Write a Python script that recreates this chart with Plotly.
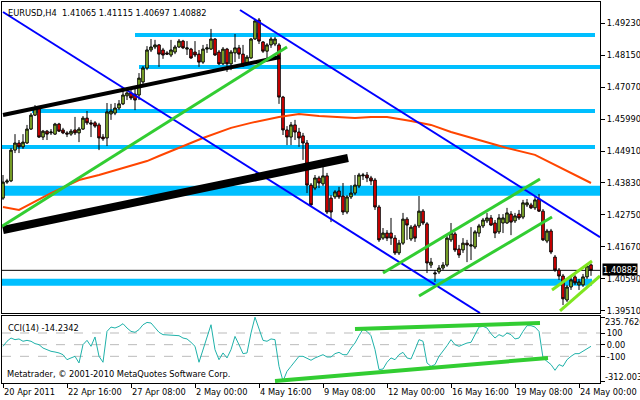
import plotly.graph_objects as go

# ---------------- data ----------------
title_text = "EURUSD,H4\u00a0\u00a01.41065 1.41115 1.40697 1.40882"
cci_label = "CCI(14) -14.2342"
copyright_text = "Metatrader, \u00a9 2001-2010 MetaQuotes Software Corp."
last_close = 1.40882

opens = [
    1.4332, 1.4386, 1.4390, 1.4494, 1.4518, 1.4505, 1.4518, 1.4565, 1.4612, 1.4636,
    1.4538, 1.4558, 1.4552, 1.4548, 1.4582, 1.4562, 1.4552, 1.4548, 1.4562, 1.4552,
    1.4565, 1.4602, 1.4586, 1.4586, 1.4579, 1.4538, 1.4535, 1.4616, 1.4619, 1.4636,
    1.4650, 1.4677, 1.4687, 1.4683, 1.4680, 1.4724, 1.4771, 1.4832, 1.4842, 1.4849,
    1.4832, 1.4822, 1.4815, 1.4825, 1.4842, 1.4862, 1.4835, 1.4835, 1.4825, 1.4818,
    1.4791, 1.4835, 1.4835, 1.4869, 1.4825, 1.4785, 1.4835, 1.4785, 1.4822, 1.4839,
    1.4818, 1.4785, 1.4805, 1.4869, 1.4933, 1.4859, 1.4828, 1.4849, 1.4852, 1.4849,
    1.4673, 1.4562, 1.4538, 1.4579, 1.4555, 1.4542, 1.4518, 1.4376, 1.4366, 1.4400,
    1.4380, 1.4407, 1.4332, 1.4336, 1.4356, 1.4339, 1.4285, 1.4336, 1.4349, 1.4373,
    1.4407, 1.4410, 1.4400, 1.4393, 1.4302, 1.4197, 1.4214, 1.4214, 1.4197, 1.4147,
    1.4180, 1.4261, 1.4194, 1.4238, 1.4238, 1.4288, 1.4245, 1.4106, 1.4076, 1.4083,
    1.4096, 1.4106, 1.4191, 1.4211, 1.4160, 1.4157, 1.4180, 1.4170, 1.4167, 1.4214,
    1.4238, 1.4255, 1.4265, 1.4248, 1.4218, 1.4248, 1.4248, 1.4278, 1.4255, 1.4278,
    1.4268, 1.4309, 1.4309, 1.4299, 1.4329, 1.4288, 1.4187, 1.4221, 1.4133, 1.4089,
    1.4069, 1.3988, 1.4032, 1.4066, 1.4039, 1.4039, 1.4066, 1.41065,
]
highs = [
    1.4410, 1.4397, 1.4501, 1.4548, 1.4528, 1.4548, 1.4579, 1.4619, 1.4646, 1.4643,
    1.4562, 1.4562, 1.4565, 1.4586, 1.4586, 1.4569, 1.4558, 1.4565, 1.4606, 1.4572,
    1.4609, 1.4626, 1.4596, 1.4592, 1.4586, 1.4548, 1.4653, 1.4650, 1.4653, 1.4663,
    1.4697, 1.4697, 1.4697, 1.4704, 1.4754, 1.4778, 1.4845, 1.4869, 1.4866, 1.4852,
    1.4839, 1.4828, 1.4866, 1.4849, 1.4869, 1.4866, 1.4862, 1.4839, 1.4862, 1.4832,
    1.4849, 1.4852, 1.4903, 1.4872, 1.4832, 1.4842, 1.4839, 1.4832, 1.4886, 1.4849,
    1.4849, 1.4815, 1.4872, 1.4937, 1.4940, 1.4862, 1.4855, 1.4876, 1.4876, 1.4855,
    1.4677, 1.4575, 1.4589, 1.4596, 1.4569, 1.4552, 1.4528, 1.4383, 1.4410, 1.4407,
    1.4437, 1.4417, 1.4342, 1.4359, 1.4370, 1.4383, 1.4342, 1.4376, 1.4410, 1.4417,
    1.4417, 1.4420, 1.4407, 1.4400, 1.4309, 1.4231, 1.4224, 1.4265, 1.4207, 1.4191,
    1.4282, 1.4268, 1.4241, 1.4245, 1.4339, 1.4295, 1.4251, 1.4130, 1.4089, 1.4106,
    1.4116, 1.4204, 1.4248, 1.4218, 1.4174, 1.4197, 1.4191, 1.4234, 1.4224, 1.4245,
    1.4265, 1.4282, 1.4275, 1.4258, 1.4278, 1.4278, 1.4299, 1.4288, 1.4282, 1.4292,
    1.4326, 1.4329, 1.4316, 1.4336, 1.4346, 1.4295, 1.4228, 1.4228, 1.4140, 1.4096,
    1.4076, 1.4039, 1.4069, 1.4072, 1.4059, 1.4076, 1.4110, 1.41115,
]
lows = [
    1.4326, 1.4380, 1.4386, 1.4484, 1.4484, 1.4498, 1.4515, 1.4562, 1.4609, 1.4535,
    1.4528, 1.4528, 1.4545, 1.4545, 1.4555, 1.4548, 1.4538, 1.4542, 1.4545, 1.4521,
    1.4562, 1.4579, 1.4538, 1.4569, 1.4494, 1.4525, 1.4508, 1.4596, 1.4612, 1.4629,
    1.4646, 1.4663, 1.4663, 1.4629, 1.4663, 1.4714, 1.4764, 1.4825, 1.4835, 1.4775,
    1.4802, 1.4815, 1.4808, 1.4818, 1.4839, 1.4835, 1.4815, 1.4802, 1.4808, 1.4775,
    1.4785, 1.4822, 1.4832, 1.4812, 1.4781, 1.4781, 1.4758, 1.4764, 1.4791, 1.4802,
    1.4775, 1.4781, 1.4802, 1.4866, 1.4852, 1.4822, 1.4802, 1.4839, 1.4845, 1.4650,
    1.4545, 1.4511, 1.4511, 1.4528, 1.4505, 1.4461, 1.4349, 1.4302, 1.4359, 1.4366,
    1.4373, 1.4278, 1.4251, 1.4329, 1.4329, 1.4275, 1.4278, 1.4329, 1.4342, 1.4366,
    1.4393, 1.4386, 1.4376, 1.4292, 1.4184, 1.4191, 1.4187, 1.4174, 1.4140, 1.4140,
    1.4174, 1.4191, 1.4187, 1.4184, 1.4231, 1.4241, 1.4079, 1.4096, 1.4049, 1.4076,
    1.4089, 1.4100, 1.4184, 1.4150, 1.4130, 1.4147, 1.4116, 1.4123, 1.4160, 1.4201,
    1.4231, 1.4248, 1.4238, 1.4197, 1.4211, 1.4214, 1.4245, 1.4207, 1.4248, 1.4258,
    1.4261, 1.4302, 1.4295, 1.4292, 1.4285, 1.4187, 1.4180, 1.4143, 1.4083, 1.4056,
    1.3971, 1.3981, 1.4022, 1.4039, 1.4022, 1.4032, 1.4059, 1.40697,
]
closes = [
    1.4386, 1.4390, 1.4494, 1.4518, 1.4505, 1.4521, 1.4565, 1.4612, 1.4636, 1.4538,
    1.4558, 1.4548, 1.4555, 1.4582, 1.4558, 1.4552, 1.4548, 1.4558, 1.4552, 1.4565,
    1.4602, 1.4586, 1.4582, 1.4575, 1.4535, 1.4532, 1.4623, 1.4626, 1.4636, 1.4650,
    1.4680, 1.4687, 1.4670, 1.4663, 1.4737, 1.4771, 1.4832, 1.4842, 1.4849, 1.4818,
    1.4815, 1.4818, 1.4832, 1.4842, 1.4862, 1.4839, 1.4839, 1.4805, 1.4815, 1.4791,
    1.4835, 1.4839, 1.4869, 1.4815, 1.4785, 1.4835, 1.4785, 1.4825, 1.4839, 1.4818,
    1.4778, 1.4808, 1.4869, 1.4930, 1.4862, 1.4828, 1.4849, 1.4869, 1.4869, 1.4673,
    1.4562, 1.4538, 1.4579, 1.4555, 1.4535, 1.4518, 1.4376, 1.4309, 1.4400, 1.4383,
    1.4407, 1.4285, 1.4285, 1.4353, 1.4336, 1.4285, 1.4336, 1.4349, 1.4376, 1.4410,
    1.4410, 1.4400, 1.4390, 1.4302, 1.4191, 1.4214, 1.4197, 1.4197, 1.4147, 1.4180,
    1.4261, 1.4241, 1.4234, 1.4197, 1.4288, 1.4248, 1.4113, 1.4116, 1.4079, 1.4096,
    1.4106, 1.4197, 1.4214, 1.4157, 1.4140, 1.4180, 1.4174, 1.4174, 1.4218, 1.4238,
    1.4258, 1.4265, 1.4241, 1.4214, 1.4265, 1.4265, 1.4282, 1.4251, 1.4272, 1.4265,
    1.4316, 1.4316, 1.4299, 1.4326, 1.4288, 1.4191, 1.4221, 1.4150, 1.4089, 1.4069,
    1.3992, 1.4032, 1.4056, 1.4046, 1.4049, 1.4066, 1.4103, 1.40882,
]

# moving average (orange) read at selected bars
ma_bars = [0, 4, 12, 19, 24, 32, 36, 39, 47, 50, 57, 62, 69, 74, 79, 88, 92, 96,
           102, 107, 112, 118, 126, 133, 137, 142, 147]
ma_vals = [1.4302, 1.4292, 1.4349, 1.4393, 1.4410, 1.4440, 1.4457, 1.4474, 1.4518,
           1.4535, 1.4569, 1.4586, 1.4606, 1.4616, 1.4609, 1.4602, 1.4606, 1.4606,
           1.4592, 1.4579, 1.4555, 1.4532, 1.4501, 1.4478, 1.4451, 1.4417, 1.4383]

cci = [
    -14, 29, 57, 43, 49, 29, 37, 29, 9, 0,
    -29, -43, -57, -63, -71, -86, -129, -114, -100, -157,
    0, 37, -14, 66, -100, -151, 114, 151, 143, 157,
    180, 143, 114, 106, 129, 171, 191, 186, 143, 106,
    86, 83, 77, 77, 77, 57, 49, 20, -14, -151,
    -49, 66, 171, -43, -129, -71, -114, -43, 71, 0,
    -77, -71, 100, 235.76, 143, 37, 29, 49, 43, -186,
    -312.0, -229, -186, -143, -100, -100, -114, -134, -114, -100,
    -86, -106, -106, -77, -66, -86, -86, -29, 14, 77,
    134, 114, 77, -43, -214, -209, -151, -114, -129, -86,
    -66, -114, -123, -43, 43, 29, -157, -186, -171, -100,
    -57, -9, 43, 0, -14, 0, 14, 20, 86, 151,
    157, 143, 94, 57, 86, 71, 100, 86, 49, 57,
    114, 163, 163, 151, 114, -114, -143, -171, -220, -171,
    -186, -129, -100, -77, -77, -57, -37, -14.2342,
]

time_tick_bars = [0, 16, 32, 48, 64, 80, 96, 112, 128, 144]
time_labels = ["20 Apr 2011", "22 Apr 16:00", "27 Apr 08:00", "2 May 00:00",
               "4 May 16:00", "9 May 08:00", "12 May 00:00", "16 May 16:00",
               "19 May 08:00", "24 May 00:00"]
price_ticks = [1.49230, 1.48150, 1.47070, 1.45990, 1.44910,
               1.43830, 1.42750, 1.41670, 1.40590, 1.39510]
cci_levels = [100, 0, -100]
cci_max = 235.7626
cci_min = -312.003

# horizontal support/resistance levels: price, first bar, last bar
hl_prices = [1.48825, 1.47745, 1.46260, 1.45045, 1.43566, 1.40478]
hl_start = [33, 34, 7.25, -0.25, -0.25, -0.25]
hl_end = [148, 149.25, 148, 148, 149.25, 147.25]

# trend lines on price: (bar0, price0, bar1, price1)
trend_lines = [
    (0, 1.49601, 119.25, 1.39442),      # blue channel lower
    (59.25, 1.49669, 149.25, 1.42000),  # blue channel upper
    (0, 1.46125, 69.25, 1.48082),       # black thin
    (0, 1.42243, 86.25, 1.44673),       # black thick
    (-0.25, 1.42370, 71, 1.48420),      # green long
    (95, 1.40792, 134.25, 1.43965),     # green channel upper
    (104, 1.40016, 137.25, 1.42682),    # green channel lower
    (137.25, 1.40218, 147.25, 1.41197), # small channel upper
    (139.25, 1.39510, 149.25, 1.40691), # small channel lower
]
# trend lines on CCI
cci_lines = [
    (88, 135, 134.25, 186),
    (68, -311, 136.25, -114),
]

# ---------------- styles ----------------
FONT = "DejaVu Sans Condensed, Liberation Sans, Arial, sans-serif"
FS = 9.2
hl_widths = [4, 4, 4, 4, 10, 7]
trend_colors = ["#0000FF", "#0000FF", "#000000", "#000000", "#32CD32",
                "#32CD32", "#32CD32", "#7FE620", "#7FE620"]
trend_widths = [2, 2, 4, 8, 3, 3, 3, 3, 3]

bars = list(range(len(opens)))
x_range = [-0.25, 149.25]

fig = go.Figure()

fig.add_trace(go.Scatter(x=ma_bars, y=ma_vals, mode="lines",
                         line=dict(color="#FF4500", width=2),
                         xaxis="x", yaxis="y", hoverinfo="skip"))

fig.add_trace(go.Candlestick(
    x=bars, open=opens, high=highs, low=lows, close=closes,
    increasing=dict(fillcolor="#9ACD32", line=dict(color="black", width=1)),
    decreasing=dict(fillcolor="#FF0000", line=dict(color="black", width=1)),
    whiskerwidth=0, xaxis="x", yaxis="y"))

for (b0, p0, b1, p1), col, w in zip(trend_lines, trend_colors, trend_widths):
    fig.add_trace(go.Scatter(x=[b0, b1], y=[p0, p1], mode="lines",
                             line=dict(color=col, width=w),
                             xaxis="x", yaxis="y", hoverinfo="skip"))

fig.add_trace(go.Scatter(x=bars, y=cci, mode="lines",
                         line=dict(color="#20B2AA", width=1),
                         xaxis="x2", yaxis="y2", hoverinfo="skip"))

for (b0, v0, b1, v1) in cci_lines:
    fig.add_trace(go.Scatter(x=[b0, b1], y=[v0, v1], mode="lines",
                             line=dict(color="#32CD32", width=4),
                             xaxis="x2", yaxis="y2", hoverinfo="skip"))

shapes = []
for p, s, e, w in zip(hl_prices, hl_start, hl_end, hl_widths):
    shapes.append(dict(type="line", xref="x", yref="y", x0=s, x1=e, y0=p, y1=p,
                       line=dict(color="#00BFFF", width=w), layer="below"))
shapes.append(dict(type="line", xref="x", yref="y", x0=x_range[0], x1=x_range[1],
                   y0=last_close, y1=last_close, line=dict(color="black", width=1),
                   layer="below"))
for lv in cci_levels:
    shapes.append(dict(type="line", xref="x2", yref="y2", x0=x_range[0], x1=x_range[1],
                       y0=lv, y1=lv, line=dict(color="#BBBBBB", width=1, dash="dash"),
                       layer="below"))

tfont = dict(size=FS, color="black", family=FONT)
annotations = [
    dict(text=title_text, xref="paper", yref="paper", x=0, y=1, xanchor="left",
         yanchor="top", xshift=4, yshift=-3, showarrow=False, font=tfont),
    dict(text=cci_label, xref="paper", yref="y2 domain", x=0, y=1, xanchor="left",
         yanchor="top", xshift=4, yshift=-4, showarrow=False, font=tfont),
    dict(text=copyright_text, xref="paper", yref="y2 domain", x=0, y=0,
         xanchor="left", yanchor="bottom", xshift=3, yshift=2, showarrow=False,
         font=tfont),
    dict(text=f"{last_close:.5f}", xref="paper", yref="y", x=1, y=last_close,
         xanchor="left", yanchor="middle", xshift=2, yshift=1, showarrow=False,
         bgcolor="black", borderpad=0, font=dict(size=FS, color="white", family=FONT)),
    dict(text=f"{cci_max:.4f}", xref="paper", yref="y2", x=1, y=cci_max,
         xanchor="left", yanchor="middle", xshift=3, yshift=-4, showarrow=False,
         font=tfont),
    dict(text=f"{cci_min:.3f}", xref="paper", yref="y2", x=1, y=cci_min,
         xanchor="left", yanchor="middle", xshift=3, yshift=5, showarrow=False,
         font=tfont),
]

axis_common = dict(showgrid=False, zeroline=False, showline=True, mirror=True,
                   linecolor="black", linewidth=1, tickcolor="black",
                   automargin=False, tickfont=tfont)

fig.update_layout(
    width=640, height=400, autosize=False,
    margin=dict(l=2, r=40, t=2, b=17, pad=0),
    paper_bgcolor="white", plot_bgcolor="white", showlegend=False,
    boxgap=0.1,
    font=dict(family=FONT, size=FS, color="black"),
    xaxis=dict(domain=[0, 1], anchor="y", range=x_range, showticklabels=False,
               ticks="", rangeslider=dict(visible=False), **axis_common),
    yaxis=dict(domain=[0.18373, 1], anchor="x", side="right",
               range=[1.39442, 1.49939], tickvals=price_ticks,
               ticktext=[f"{v:.5f}" for v in price_ticks],
               ticks="outside", ticklen=4, **axis_common),
    xaxis2=dict(domain=[0, 1], anchor="y2", matches="x", range=x_range,
                tickvals=time_tick_bars, ticktext=time_labels, ticks="outside",
                ticklen=4, tickangle=0, ticklabelposition="outside right",
                rangeslider=dict(visible=False), **axis_common),
    yaxis2=dict(domain=[0, 0.17585], anchor="x2", side="right", range=[-329, 246],
                tickvals=[cci_max, 100, 0, -100, cci_min],
                ticktext=["", "100", "0.00", "-100", ""],
                ticks="outside", ticklen=4, **axis_common),
    shapes=shapes, annotations=annotations,
)

fig.write_html("out.html",
               config={"displayModeBar": False},
               post_script="document.body.style.margin='0';"
                           "document.body.style.overflow='hidden';")
